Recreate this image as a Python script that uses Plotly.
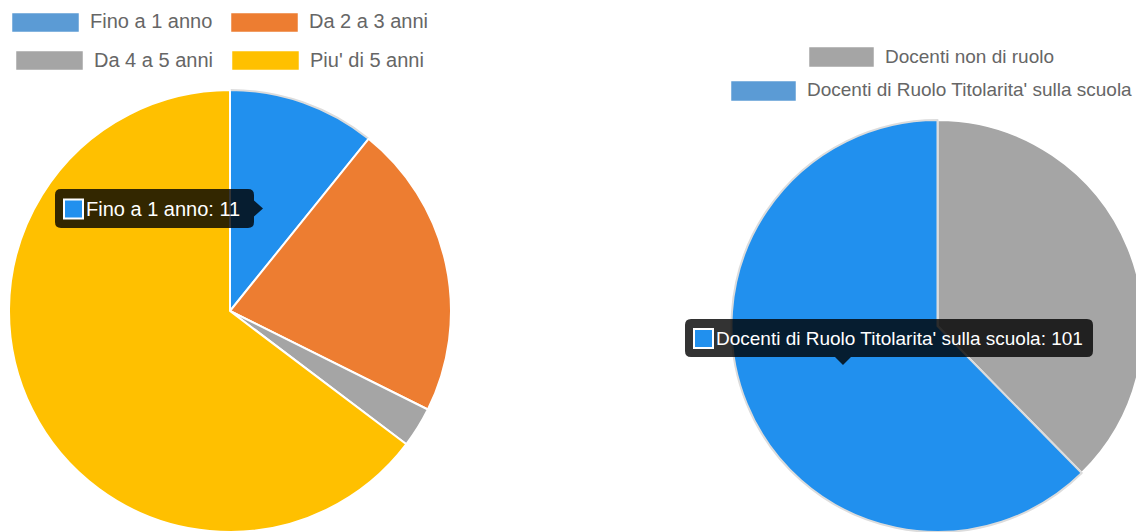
import plotly.graph_objects as go

# ---- data ----
age_labels = ["Fino a 1 anno", "Da 2 a 3 anni", "Da 4 a 5 anni", "Piu' di 5 anni"]
age_values = [11, 22, 3, 66]
age_colors = ["#5B9BD5", "#ED7D31", "#A5A5A5", "#FFC000"]

role_labels = ["Docenti non di ruolo", "Docenti di Ruolo Titolarita' sulla scuola"]
role_values = [61, 101]
role_colors = ["#A5A5A5", "#5B9BD5"]

HOVER_BLUE = "#2190EE"
# the page body keeps its default 8px margin, so the figure starts at (8, 8)
OX, OY = 8, 8
W, H = 1144 - OX, 532 - OY
FONT = "Liberation Sans, Arial, sans-serif"


def px(x):
    return (x - OX) / W


def py(y):
    return 1 - (y - OY) / H


fig = go.Figure()

# left pie (first slice shown highlighted as in the hovered state)
left_fill = [HOVER_BLUE] + age_colors[1:]
left_line = ["#dcdcdc"] + ["#ffffff"] * (len(age_labels) - 1)
fig.add_trace(go.Pie(
    labels=age_labels, values=age_values, sort=False, direction="clockwise", rotation=0,
    marker=dict(colors=left_fill, line=dict(color=left_line, width=2)),
    textinfo="none", hoverinfo="label+value", showlegend=False,
    domain=dict(x=[px(8), px(452)], y=[0, py(90)]),
))

right_fill = [role_colors[0], HOVER_BLUE]
right_line = ["#ffffff", "#dcdcdc"]
fig.add_trace(go.Pie(
    labels=role_labels, values=role_values, sort=False, direction="clockwise", rotation=0,
    marker=dict(colors=right_fill, line=dict(color=right_line, width=2)),
    textinfo="none", hoverinfo="label+value", showlegend=False,
    domain=dict(x=[px(731), 1.0], y=[0, py(120)]),
))

shapes = []
annotations = []


def legend_item(label, color, x0, y0, w=67, h=19, size=20):
    shapes.append(dict(type="rect", xref="paper", yref="paper",
                       x0=px(x0), x1=px(x0 + w), y0=py(y0 + h), y1=py(y0),
                       fillcolor=color, line=dict(color="rgba(255,255,255,0.5)", width=1)))
    annotations.append(dict(xref="paper", yref="paper", x=px(x0 + w + 9), y=py(y0 + h / 2 - 1),
                            xanchor="left", yanchor="middle", showarrow=False, text=label,
                            font=dict(family=FONT, size=size, color="#666666")))


# left legend (2 rows)
left_pos = [(12, 13), (231, 13), (16, 51), (232, 51)]
for lab, col, (x0, y0) in zip(age_labels, age_colors, left_pos):
    legend_item(lab, col, x0, y0)

# right legend
right_pos = [(809, 47), (731, 81)]
for lab, col, (x0, y0) in zip(role_labels, role_colors, right_pos):
    legend_item(lab, col, x0, y0, w=65, h=20, size=19)


def rounded_rect_path(x0, y0, x1, y1, r, caret=None):
    P = lambda x, y: f"{px(x):.6f},{py(y):.6f}"
    pts = [f"M {P(x0 + r, y0)}", f"L {P(x1 - r, y0)}", f"Q {P(x1, y0)} {P(x1, y0 + r)}"]
    if caret == "right":
        cy = (y0 + y1) / 2
        pts += [f"L {P(x1, cy - 8)}", f"L {P(x1 + 9, cy)}", f"L {P(x1, cy + 8)}"]
    pts += [f"L {P(x1, y1 - r)}", f"Q {P(x1, y1)} {P(x1 - r, y1)}"]
    if isinstance(caret, tuple):
        cx = caret[1]
        pts += [f"L {P(cx + 8, y1)}", f"L {P(cx, y1 + 8)}", f"L {P(cx - 8, y1)}"]
    pts += [f"L {P(x0 + r, y1)}", f"Q {P(x0, y1)} {P(x0, y1 - r)}",
            f"L {P(x0, y0 + r)}", f"Q {P(x0, y0)} {P(x0 + r, y0)}", "Z"]
    return " ".join(pts)


def tooltip(x0, y0, x1, y1, caret, text, size):
    shapes.append(dict(type="path", xref="paper", yref="paper",
                       path=rounded_rect_path(x0, y0, x1, y1, 6, caret),
                       fillcolor="rgba(0,0,0,0.8)", line=dict(width=0)))
    cy = (y0 + y1) / 2
    shapes.append(dict(type="rect", xref="paper", yref="paper",
                       x0=px(x0 + 9), x1=px(x0 + 28), y0=py(cy + 10), y1=py(cy - 9),
                       fillcolor=HOVER_BLUE, line=dict(color="#ffffff", width=2)))
    annotations.append(dict(xref="paper", yref="paper", x=px(x0 + 29), y=py(cy),
                            xanchor="left", yanchor="middle", showarrow=False, text=text,
                            font=dict(family=FONT, size=size, color="#ffffff")))


tooltip(55, 189, 254, 228, "right", f"{age_labels[0]}: {age_values[0]}", 20)
tooltip(685, 319, 1093, 357, ("down", 843), f"{role_labels[1]}: {role_values[1]}", 19)

fig.update_layout(
    width=W, height=H, margin=dict(l=0, r=0, t=0, b=0),
    paper_bgcolor="#ffffff", plot_bgcolor="#ffffff",
    shapes=shapes, annotations=annotations,
    font=dict(family=FONT),
)

fig.write_html("out.html")
